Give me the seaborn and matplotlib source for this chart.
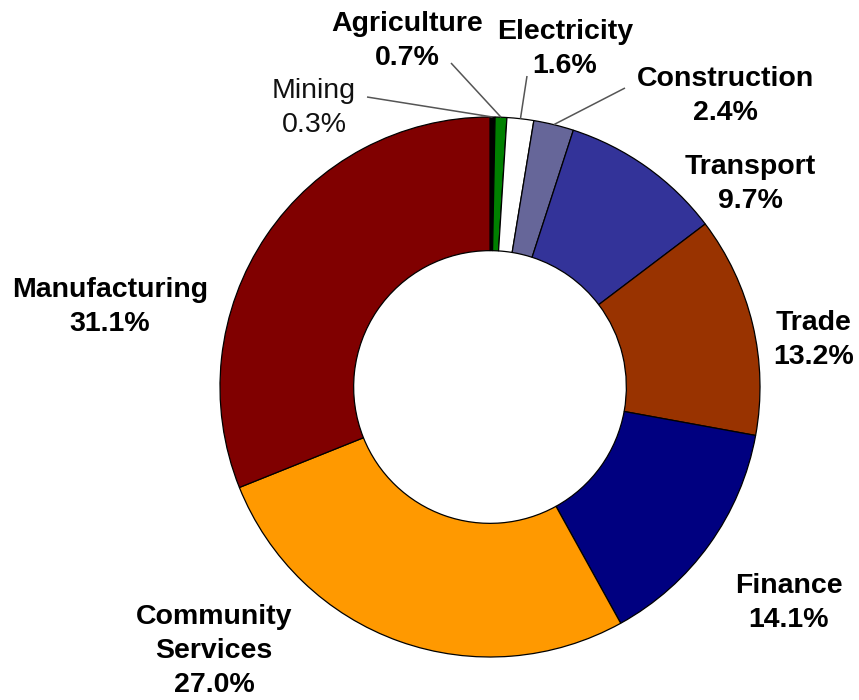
import numpy as np
import matplotlib
matplotlib.use("Agg")
import matplotlib.pyplot as plt
import seaborn as sns

# Share of output by sector (%), clockwise from 12 o'clock
sectors = ["Mining", "Agriculture", "Electricity", "Construction", "Transport",
           "Trade", "Finance", "Community\nServices", "Manufacturing"]
shares = [0.3, 0.7, 1.6, 2.4, 9.7, 13.2, 14.1, 27.0, 31.1]

sns.set_theme(style="white")
plt.rcParams["font.family"] = ["Liberation Sans", "DejaVu Sans"]

colors = ["#000000", "#008000", "#FFFFFF", "#666699", "#333399",
          "#993300", "#000080", "#FF9900", "#800000"]

W, H = 859, 700
cx, cy, R = 490, 387, 270  # pie centre and radius in pixels

fig = plt.figure(figsize=(W / 100, H / 100), dpi=100)
ax = fig.add_axes([0, 0, 1, 1])

wedges, _ = ax.pie(shares, colors=colors, startangle=90, counterclock=False,
                   radius=1.0, wedgeprops=dict(width=0.495, edgecolor="black",
                                               linewidth=0.9))
ax.set_xlim(-cx / R, (W - cx) / R)
ax.set_ylim(-(H - cy) / R, cy / R)
ax.set_aspect("equal")
ax.axis("off")

# label centres in pixel coordinates (from top-left)
label_pos = {
    "Mining": (314, 108),
    "Agriculture": (407, 41),
    "Electricity": (565, 49),
    "Construction": (725, 96),
    "Transport": (750, 184),
    "Trade": (814, 340),
    "Finance": (789, 603),
    "Community\nServices": (214, 651),
    "Manufacturing": (110, 307),
}
# start of leader line (pixels from top-left) for the thin slices
leader_start = {
    "Mining": (367, 97),
    "Agriculture": (451, 63),
    "Electricity": (527, 76),
    "Construction": (625, 88),
}

total = sum(shares)
cum = np.cumsum(shares)
for name, v, c in zip(sectors, shares, cum):
    mid = np.deg2rad(90 - 360 * (c - v / 2) / total)
    px, py = label_pos[name]
    txt = f"{name}\n{v:.1f}%"
    if name == "Mining":
        kw = dict(fontsize=20.5, fontweight="normal", color="#111111")
    else:
        kw = dict(fontsize=20.5, fontweight="bold", color="black")
    ax.text((px - cx) / R, (cy - py) / R, txt, ha="center", va="center",
            linespacing=1.38, **kw)
    if name in leader_start:
        sx, sy = leader_start[name]
        ax.plot([(sx - cx) / R, np.cos(mid)], [(cy - sy) / R, np.sin(mid)],
                color="#555555", lw=1.1, solid_capstyle="butt")

fig.savefig("out.png", dpi=100, facecolor="white")
